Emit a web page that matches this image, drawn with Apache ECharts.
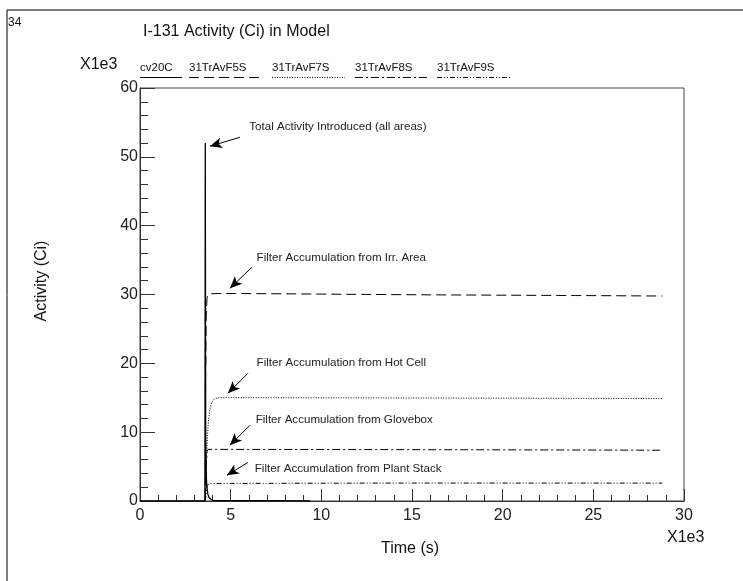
<!DOCTYPE html>
<html>
<head>
<meta charset="utf-8">
<script src="https://cdn.jsdelivr.net/npm/echarts@6/dist/echarts.min.js"></script>
<style>
html,body{margin:0;padding:0;background:#fff;}
#chart{width:743px;height:581px;}
</style>
</head>
<body>
<div id="chart"></div>
<script>
// Values in units of 1e3 (time: 1e3 s, activity: 1e3 Ci)
const xTicks = [0, 5, 10, 15, 20, 25, 30];
const yTicks = [0, 10, 20, 30, 40, 50, 60];
const seriesNames = ['cv20C', '31TrAvF5S', '31TrAvF7S', '31TrAvF8S', '31TrAvF9S'];

const cv20C = [[0,0],[3.58,0],[3.6,52.0],[3.62,12],[3.64,5],[3.68,2.2],[3.74,1.0],[3.82,0.45],[3.9,0.2],[4.0,0.1],[5,0.06],[7,0.04],[9.4,0.02]];
const f5s = [[3.6,0],[3.62,18],[3.65,27],[3.7,29.6],[3.8,30.1],[4.5,30.15],[8,30.1],[12,30.02],[16,29.95],[20,29.9],[24,29.85],[28.8,29.78]];
const f7s = [[3.6,0],[3.63,3],[3.67,6.5],[3.72,9.5],[3.78,11.8],[3.86,13.4],[3.95,14.3],[4.1,14.85],[4.4,15.02],[8,15.0],[14,14.97],[20,14.94],[28.8,14.88]];
const f8s = [[3.6,0],[3.65,5],[3.7,7.2],[3.75,7.5],[10,7.48],[20,7.43],[28.8,7.38]];
const f9s = [[3.6,0],[3.7,2.2],[3.8,2.55],[3.9,2.62],[15,2.61],[28.8,2.6]];

const annotations = [
  {text:'Total Activity Introduced (all areas)', at:[6.0,54.3], from:[5.51,52.84], to:[3.86,51.54]},
  {text:'Filter Accumulation from Irr. Area', at:[6.4,35.4], from:[6.17,33.95], to:[4.96,30.9]},
  {text:'Filter Accumulation from Hot Cell', at:[6.4,20.15], from:[5.95,18.55], to:[4.85,15.65]},
  {text:'Filter Accumulation from Glovebox', at:[6.35,11.73], from:[6.06,11.0], to:[4.96,8.1]},
  {text:'Filter Accumulation from Plant Stack', at:[6.3,4.75], from:[5.95,5.6], to:[4.79,3.73]}
];

const FONT = 'Liberation Sans, Arial, sans-serif';
const dashes = {
  cv20C: null,
  '31TrAvF5S': [10,5],
  '31TrAvF7S': [1,1.5],
  '31TrAvF8S': [8,3,2,3],
  '31TrAvF9S': [5,2,1,2,1,2]
};
const seriesData = [cv20C, f5s, f7s, f8s, f9s];

const chart = echarts.init(document.getElementById('chart'), null, {renderer:'canvas'});

const series = seriesNames.map((n, i) => ({
  name: n,
  type: 'line',
  data: seriesData[i],
  showSymbol: false,
  smooth: false,
  silent: true,
  animation: false,
  lineStyle: {color:'#000', width: i === 0 ? 1.3 : 1, type: dashes[n] ? dashes[n] : 'solid'},
  itemStyle: {color:'#000'},
  z: 3
}));

series[0].markLine = {
  silent: true,
  animation: false,
  symbol: ['none', 'arrow'],
  symbolSize: 10,
  label: {show: false},
  lineStyle: {color:'#000', width: 1, type: 'solid'},
  itemStyle: {color:'#000'},
  data: annotations.map(a => [
    {coord: a.from, symbol: 'none'},
    {coord: a.to, symbol: 'arrow', symbolSize: [8, 12]}
  ])
};
series[0].markPoint = {
  silent: true,
  animation: false,
  symbol: 'rect',
  symbolSize: 1,
  itemStyle: {color: 'rgba(0,0,0,0)'},
  label: {show: true, position: 'right', distance: 0, color: '#222', fontFamily: FONT, fontSize: 11.6,
          formatter: p => p.name},
  data: annotations.map(a => ({name: a.text, coord: a.at}))
};

// Legend drawn ROOT-style: label above, line sample below
const legendX = [[140,182],[189,260],[272,345],[355,430],[437,510]];
const graphics = [
  {type:'polyline', shape:{points:[[743,10],[7,10],[7,581]]}, style:{stroke:'#000', lineWidth:1, fill:null}, silent:true},
  {type:'text', left:8, top:17, style:{text:'34', font:'12px '+FONT, fill:'#111'}},
  {type:'text', left:143, top:24, style:{text:'I-131 Activity (Ci) in Model', font:'16px '+FONT, fill:'#111'}},
  {type:'text', left:80, top:57, style:{text:'X1e3', font:'16px '+FONT, fill:'#111'}},
  {type:'text', left:667, top:530, style:{text:'X1e3', font:'16px '+FONT, fill:'#111'}},
  {type:'text', x:410, y:549, style:{text:'Time (s)', font:'16px '+FONT, fill:'#111', align:'center', verticalAlign:'middle'}},
  {type:'text', x:42, y:281, rotation:Math.PI/2, style:{text:'Activity (Ci)', font:'16px '+FONT, fill:'#111', align:'center', verticalAlign:'middle'}}
];
seriesNames.forEach((n, i) => {
  graphics.push({type:'text', left:legendX[i][0], top:62, style:{text:n, font:'11.5px '+FONT, fill:'#111'}});
  graphics.push({type:'line', shape:{x1:legendX[i][0], y1:77.5, x2:legendX[i][1], y2:77.5},
    style:{stroke:'#000', lineWidth:1, lineDash: dashes[n] || null}, silent:true});
});

chart.setOption({
  animation: false,
  backgroundColor: '#fff',
  grid: {left:140, top:88, width:544, height:413, show:true, borderColor:'#444', borderWidth:1, backgroundColor:'transparent'},
  xAxis: {
    type:'value', min: xTicks[0], max: xTicks[xTicks.length-1], interval: 5,
    axisLine: {show:true, onZero:false, lineStyle:{color:'#333', width:1}},
    axisTick: {show:true, inside:true, length:12, lineStyle:{color:'#333'}},
    minorTick: {show:true, splitNumber:5, length:6, lineStyle:{color:'#333'}},
    splitLine: {show:false},
    axisLabel: {fontSize:16, color:'#222', fontFamily:FONT, margin:7,
                formatter: v => xTicks.includes(v) ? String(v) : ''}
  },
  yAxis: {
    type:'value', min: yTicks[0], max: yTicks[yTicks.length-1], interval: 10,
    axisLine: {show:true, onZero:false, lineStyle:{color:'#333', width:1}},
    axisTick: {show:true, inside:true, length:15, lineStyle:{color:'#333'}},
    minorTick: {show:true, splitNumber:5, length:8, lineStyle:{color:'#333'}},
    splitLine: {show:false},
    axisLabel: {fontSize:16, color:'#222', fontFamily:FONT, margin:2,
                formatter: v => yTicks.includes(v) ? String(v) : ''}
  },
  series: series,
  graphic: graphics
});
</script>
</body>
</html>
